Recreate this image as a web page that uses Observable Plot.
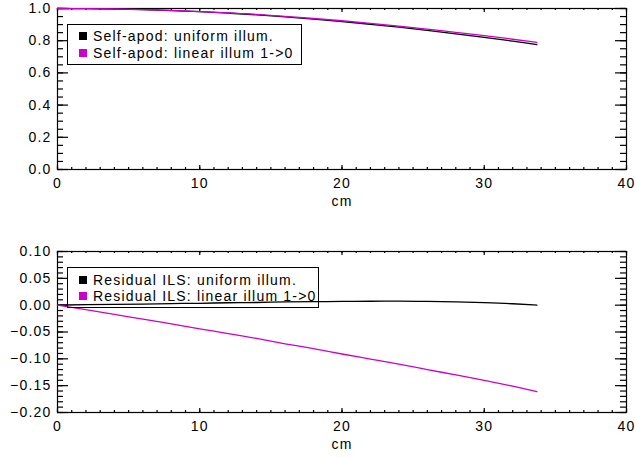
<!DOCTYPE html>
<html>
<head>
<meta charset="utf-8">
<script src="https://cdn.jsdelivr.net/npm/d3@7"></script>
<script src="https://cdn.jsdelivr.net/npm/@observablehq/plot@0.6"></script>
<style>
  html, body { margin: 0; padding: 0; background: #fff; }
  #page { position: relative; width: 635px; height: 457px; overflow: hidden; font-family: "Liberation Sans", Arial, sans-serif; }
  #page svg { display: block; }
  .legend { position: absolute; box-sizing: border-box; border: 1px solid #000; font-size: 14px; letter-spacing: 1.2px; color: #000; }
  .legend .row { position: absolute; left: 11px; height: 16px; line-height: 16px; white-space: nowrap; }
  .legend .sw { display: inline-block; width: 8px; height: 8px; vertical-align: middle; margin-right: 6px; position: relative; top: -1px; }
</style>
</head>
<body>
<div id="page"></div>
<script>
// ---- data ----
const xCm = [0, 2, 4, 6, 8, 10, 12, 14, 16, 18, 20, 22, 24, 26, 28, 30, 32, 33.7];
const selfApodUniform = [1.000, 0.999, 0.997, 0.993, 0.987, 0.980, 0.971, 0.961, 0.948, 0.934, 0.919, 0.902, 0.884, 0.864, 0.843, 0.821, 0.797, 0.776];
const selfApodLinear  = [1.000, 0.999, 0.997, 0.993, 0.988, 0.981, 0.973, 0.963, 0.951, 0.938, 0.924, 0.908, 0.891, 0.872, 0.852, 0.832, 0.809, 0.789];
const residUniform = [0.000, 0.001, 0.0015, 0.002, 0.003, 0.0035, 0.0045, 0.005, 0.006, 0.0065, 0.007, 0.0073, 0.0074, 0.0070, 0.0062, 0.0047, 0.0026, 0.000];
const residLinear  = [0.000, -0.0085, -0.0173, -0.026, -0.035, -0.044, -0.053, -0.062, -0.072, -0.081, -0.091, -0.1005, -0.110, -0.120, -0.130, -0.140, -0.151, -0.161];

const topNames = ["Self-apod: uniform illum.", "Self-apod: linear illum 1->0"];
const botNames = ["Residual ILS: uniform illum.", "Residual ILS: linear illum 1->0"];
const seriesColors = ["#000000", "#cc00cc"];

const xMajor = [0, 10, 20, 30, 40];
const xMinor = d3.range(0, 41, 1);
const yTopMajor = [0, 0.2, 0.4, 0.6, 0.8, 1.0];
const yTopMinor = d3.range(0, 1.0001, 0.05);
const yBotMajor = [-0.20, -0.15, -0.10, -0.05, 0.00, 0.05, 0.10];
const yBotMinor = d3.range(-0.20, 0.1001, 0.01);
const xTitle = "cm";

function rows(names, a, b) {
  return xCm.flatMap((x, i) => [
    {x, v: a[i], s: names[0]},
    {x, v: b[i], s: names[1]}
  ]);
}

const plotStyle = {fontFamily: "'Liberation Sans', Arial, sans-serif", fontSize: "14px", letterSpacing: "1.2px", color: "#000", background: "#fff"};
const W = 635, ML = 57, MR = 9;

function panel({height, marginTop, marginBottom, yDomain, yMajor, yMinor, fmt, data, names}) {
  const fw = W - ML - MR;
  const fh = height - marginTop - marginBottom;
  const tickStyle = {stroke: "#000", strokeWidth: 1.2};
  return Plot.plot({
    width: W, height, marginTop, marginBottom, marginLeft: ML, marginRight: MR,
    style: plotStyle,
    x: {domain: [0, 40]},
    y: {domain: yDomain},
    color: {domain: names, range: seriesColors},
    marks: [
      Plot.tickX(xMajor, {x: d => d, insetTop: fh - 4, ...tickStyle}),
      Plot.tickX(xMajor, {x: d => d, insetBottom: fh - 4, ...tickStyle}),
      Plot.tickX(xMinor, {x: d => d, insetTop: fh - 2, ...tickStyle}),
      Plot.tickX(xMinor, {x: d => d, insetBottom: fh - 2, ...tickStyle}),
      Plot.tickY(yMajor, {y: d => d, insetRight: fw - 11, ...tickStyle}),
      Plot.tickY(yMajor, {y: d => d, insetLeft: fw - 11, ...tickStyle}),
      Plot.tickY(yMinor, {y: d => d, insetRight: fw - 6, ...tickStyle}),
      Plot.tickY(yMinor, {y: d => d, insetLeft: fw - 6, ...tickStyle}),
      Plot.axisX({anchor: "bottom", ticks: xMajor, tickSize: 0, tickPadding: 9, tickFormat: d3.format("d"), label: null}),
      Plot.axisY({anchor: "left", ticks: yMajor, tickSize: 0, tickPadding: 6, tickFormat: d3.format(fmt), label: null}),
      Plot.frame({stroke: "#000", strokeWidth: 1.2}),
      Plot.line(data, {x: "x", y: "v", stroke: "s", z: "s", strokeWidth: 1.3, curve: "monotone-x"}),
      Plot.text([xTitle], {frameAnchor: "bottom", text: d => d, dy: 36, fill: "#000"})
    ]
  });
}

const page = document.getElementById("page");

const topPanel = panel({height: 228, marginTop: 8, marginBottom: 59, yDomain: [0, 1.0], yMajor: yTopMajor, yMinor: yTopMinor, fmt: ".1f", data: rows(topNames, selfApodUniform, selfApodLinear), names: topNames});
const botPanel = panel({height: 229, marginTop: 23, marginBottom: 45, yDomain: [-0.2, 0.1], yMajor: yBotMajor, yMinor: yBotMinor, fmt: ".2f", data: rows(botNames, residUniform, residLinear), names: botNames});
page.appendChild(topPanel);
page.appendChild(botPanel);

function legend(names, box) {
  const div = document.createElement("div");
  div.className = "legend";
  Object.assign(div.style, {left: box.left + "px", top: box.top + "px", width: box.width + "px", height: box.height + "px"});
  names.forEach((n, i) => {
    const r = document.createElement("div");
    r.className = "row";
    r.style.top = box.rowTops[i] + "px";
    const sw = document.createElement("span");
    sw.className = "sw";
    sw.style.background = seriesColors[i];
    r.appendChild(sw);
    r.appendChild(document.createTextNode(n));
    div.appendChild(r);
  });
  page.appendChild(div);
}
legend(topNames, {left: 67, top: 24, width: 235, height: 41, rowTops: [3, 20]});
legend(botNames, {left: 67, top: 267, width: 252, height: 41, rowTops: [4, 20]});
</script>
</body>
</html>
